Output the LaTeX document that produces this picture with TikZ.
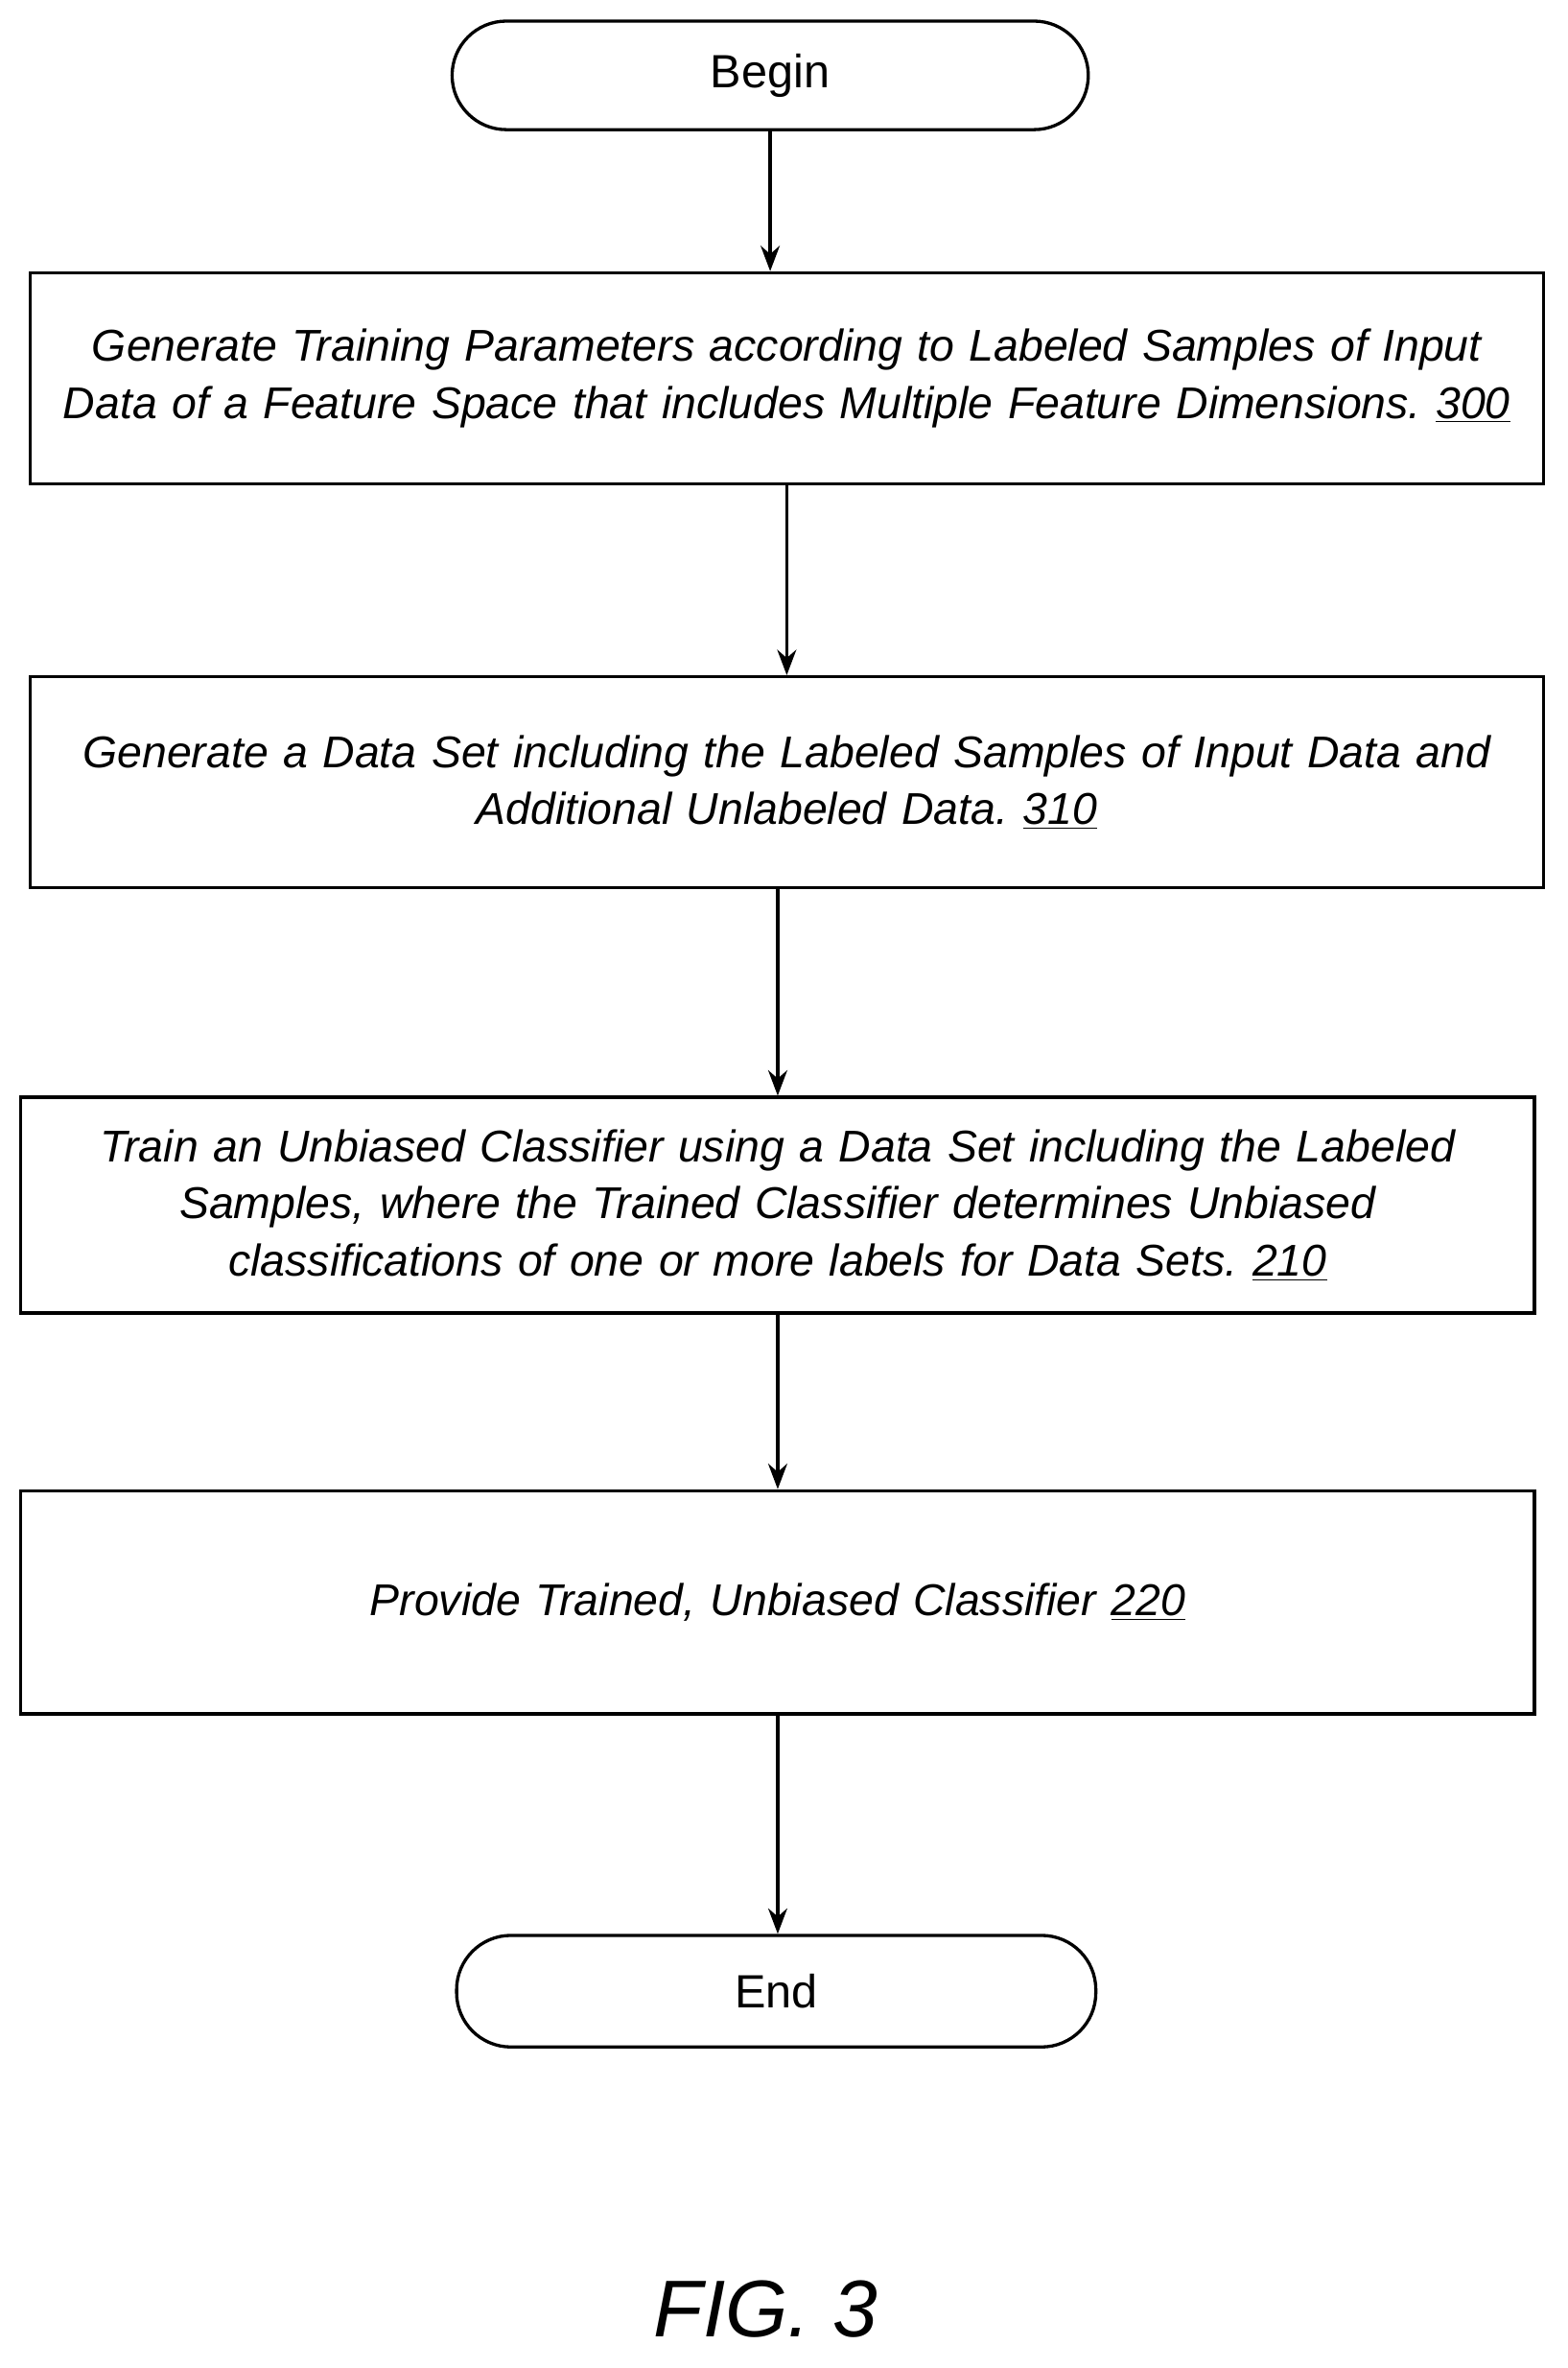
\documentclass[tikz,border=0pt]{standalone}
\usepackage{fontspec}
\setmainfont{Liberation Sans}
\frenchspacing
\usetikzlibrary{arrows.meta}
\tikzset{
  stepbox/.style={draw, line width=1.5pt, align=center, inner sep=0pt,
    font=\itshape\fontsize{21}{27}\selectfont},
  term/.style={draw, line width=1.5pt, rounded corners=0.9cm, inner sep=0pt,
    font=\fontsize{22}{27}\selectfont},
  flow/.style={-{Stealth[length=12pt,width=9pt]}, line width=1.5pt}
}
\begin{document}
\begin{tikzpicture}[x=0.025cm,y=-0.025cm]
   \useasboundingbox (0,0) rectangle (1040,1571);
   \node[term, minimum width=10.55cm, minimum height=1.8cm] (begin) at (511,50) {Begin};
   \node[stepbox, minimum width=25.1cm, minimum height=3.5cm, text width=24.4cm] (gen) at (522,251)
      {Generate Training Parameters according to Labeled Samples of Input\\
       Data of a Feature Space that includes Multiple Feature Dimensions. \underline{300}};
   \node[stepbox, minimum width=25.1cm, minimum height=3.5cm, text width=24.4cm] (data) at (522,519)
      {Generate a Data Set including the Labeled Samples of Input Data and\\
       Additional Unlabeled Data. \underline{310}};
   \node[stepbox, minimum width=25.1cm, minimum height=3.575cm, text width=24.4cm] (train) at (516,799.5)
      {Train an Unbiased Classifier using a Data Set including the Labeled\\
       Samples, where the Trained Classifier determines Unbiased\\
       classifications of one or more labels for Data Sets. \underline{210}};
   \node[stepbox, minimum width=25.1cm, minimum height=3.7cm, text width=24.4cm] (prov) at (516,1063)
      {Provide Trained, Unbiased Classifier \underline{220}};
   \node[term, minimum width=10.6cm, minimum height=1.85cm] (end) at (515,1321) {End};
   \draw[flow] (begin.south) -- (begin.south |- gen.north);
   \draw[flow] (gen.south) -- (gen.south |- data.north);
   \draw[flow] (train.north |- data.south) -- (train.north);
   \draw[flow] (train.south) -- (train.south |- prov.north);
   \draw[flow] (prov.south) -- (prov.south |- end.north);
   \node[font=\itshape\fontsize{38}{40}\selectfont] (fig) at (508,1532) {FIG. 3};
\end{tikzpicture}
\end{document}
